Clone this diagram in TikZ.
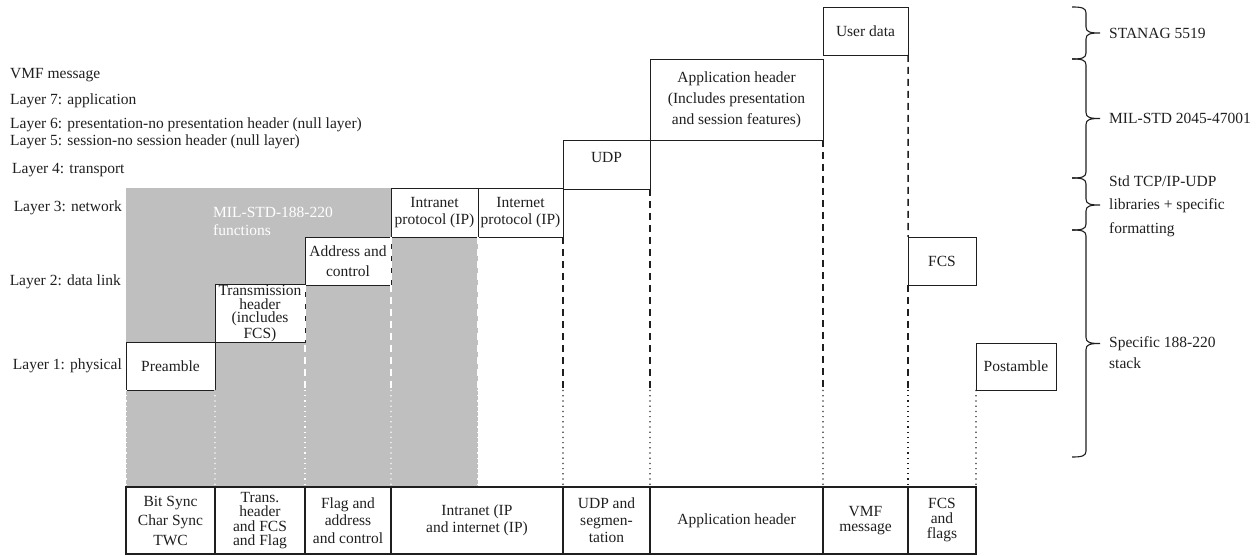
\documentclass[tikz,border=0pt]{standalone}
\usepackage{fontspec}
\setmainfont{Liberation Serif}
\newcommand\fs[2]{\fontsize{#1bp}{#2bp}\selectfont}
\definecolor{grayfill}{gray}{0.75}
\definecolor{ink}{gray}{0.12}
\tikzset{
 box/.style={draw=ink, line width=0.9bp, fill=white, outer sep=0pt, inner sep=1bp, align=center, font=\fs{15.5}{16.5}, text=ink},
 bot/.style={draw=ink, line width=1.4bp, outer sep=0pt, inner sep=0bp, align=center, minimum height=67bp, text=ink},
 dsh/.style={line width=1.5bp, dash pattern=on 7bp off 5bp},
 wdsh/.style={draw=white, line width=1.8bp, dash pattern=on 7bp off 5bp},
 dtt/.style={line width=1.1bp, dash pattern=on 1.2bp off 4bp},
 lab/.style={anchor=west, inner sep=0pt, font=\fs{15.5}{18}, text=ink},
 labr/.style={anchor=east, inner sep=0pt, font=\fs{15.5}{18}, text=ink},
 brc/.style={draw=ink, line width=1.1bp},
}
\newcommand\mybrace[3]{\draw[brc] (1072,#1) .. controls (1082,#1) and (1086,{#1+1}) .. (1086,{#1+6}) -- (1086,{#3-6}) .. controls (1086,{#3-1}) and (1090,#3) .. (1100,#3) .. controls (1090,#3) and (1086,{#3+1}) .. (1086,{#3+6}) -- (1086,{#2-6}) .. controls (1086,{#2-1}) and (1082,#2) .. (1072,#2);}
\begin{document}
\begin{tikzpicture}[x=1bp,y=-1bp]
\useasboundingbox (0,0) rectangle (1258,556);
% gray region
\fill[grayfill] (126,188) rectangle (478,487);
\node[anchor=west, inner sep=0pt, text=white, align=left, font=\fs{15.5}{18}] (g) at (213,221) {MIL-STD-188-220\\functions};
% left labels
\node[lab] (l0) at (10,75) {VMF message};
\node[lab] (l7) at (10,101) {Layer 7: application};
\node[lab] (l6) at (10,125) {Layer 6: presentation-no presentation header (null layer)};
\node[lab] (l5) at (10,142) {Layer 5: session-no session header (null layer)};
\node[lab] (l4) at (12,170) {Layer 4: transport};
\node[labr] (l3) at (122,208) {Layer 3: network};
\node[labr] (l2) at (121,282) {Layer 2: data link};
\node[labr] (l1) at (122,366) {Layer 1: physical};
% stair boxes
\node[box, minimum width=89bp, minimum height=48bp] (pre) at (170.5,366) {Preamble};
\node[box, minimum width=90bp, minimum height=57bp, font=\fs{15.5}{13.5}] (trh) at (260,313.5) {Transmission\\header\\(includes\\FCS)};
\node[box, minimum width=86bp, minimum height=48bp, font=\fs{15.5}{20}] (adc) at (348,261) {Address and\\control};
\node[box, minimum width=87bp, minimum height=49bp] (intra) at (434.5,212.5) {Intranet\\protocol (IP)};
\node[box, minimum width=85bp, minimum height=49bp] (inter) at (520.5,212.5) {Internet\\protocol (IP)};
\node[box, minimum width=87bp, minimum height=49bp] (udp) at (606.5,164.5) {\raisebox{14bp}{UDP}};
\node[box, minimum width=173bp, minimum height=81bp, font=\fs{15.5}{21}] (app) at (736.5,99.5) {Application header\\(Includes presentation\\and session features)};
\node[box, minimum width=85bp, minimum height=48bp] (usr) at (865.5,31) {User data};
\node[box, minimum width=68bp, minimum height=48bp] (fcs) at (942,261) {FCS};
\node[box, minimum width=80bp, minimum height=47bp] (post) at (1016,366.5) {Postamble};
% bottom row
\node[bot, minimum width=89bp, font=\fs{15.5}{19.5}] (b1) at (170.5,520.5) {Bit Sync\\Char Sync\\TWC};
\node[bot, minimum width=90bp, font=\fs{15.5}{14.5}] (b2) at (260,520.5) {Trans.\\header\\and FCS\\and Flag};
\node[bot, minimum width=86bp, font=\fs{15.5}{17.5}] (b3) at (348,520.5) {Flag and\\address\\and control};
\node[bot, minimum width=172bp, font=\fs{15.5}{17}] (b4) at (477,520.5) {Intranet (IP\\and internet (IP)};
\node[bot, minimum width=87bp, font=\fs{15.5}{17}] (b5) at (606.5,520.5) {UDP and\\segmen-\\tation};
\node[bot, minimum width=173bp, font=\fs{15.5}{17}] (b6) at (736.5,520.5) {Application header};
\node[bot, minimum width=85bp, font=\fs{15.5}{14.5}] (b7) at (865.5,520.5) {VMF\\message};
\node[bot, minimum width=68bp, font=\fs{15.5}{15}] (b8) at (942,520.5) {FCS\\and\\flags};
% white dashed / dotted in gray
\draw[wdsh] (adc.south west) -- (adc.south west |- post.south);
\draw[wdsh] (intra.south west) -- (intra.south west |- post.south);
\draw[wdsh] (intra.south east) -- (intra.south east |- post.south);
\draw[dtt, white] (pre.south west) -- (b1.north west);
\draw[dtt, white] (pre.south east) -- (b2.north west);
\draw[dtt, white] (adc.south west |- post.south) -- (b3.north west);
\draw[dtt, white] (intra.south west |- post.south) -- (b4.north west);
\draw[dtt, white] (intra.south east |- post.south) -- (intra.south east |- b4.north);
% black dashed / dotted
\draw[dsh, ink] (inter.south east) -- (inter.south east |- post.south);
\draw[dsh, ink] (udp.south east) -- (udp.south east |- post.south);
\draw[dsh, ink] (app.south east) -- (app.south east |- post.south);
\draw[dsh, ink] (usr.south east) -- (fcs.north west);
\draw[dsh, ink] (fcs.south west) -- (fcs.south west |- post.south);
\draw[dtt, ink] (inter.south east |- post.south) -- (b5.north west);
\draw[dtt, ink] (udp.south east |- post.south) -- (b6.north west);
\draw[dtt, ink] (app.south east |- post.south) -- (b7.north west);
\draw[dtt, ink] (fcs.south west |- post.south) -- (b8.north west);
\draw[dtt, ink] (post.south west) -- (b8.north east);
% braces
\mybrace{7}{59}{33}
\mybrace{59}{178}{118.5}
\mybrace{178}{230}{205}
\mybrace{230}{457}{343.5}
\node[lab] (r1) at (1109,33) {STANAG 5519};
\node[lab] (r2) at (1109,118) {MIL-STD 2045-47001};
\node[lab, align=left, font=\fs{15.5}{23.5}] (r3) at (1109,206) {Std TCP/IP-UDP\\libraries + specific\\formatting};
\node[lab, align=left, font=\fs{15.5}{21}] (r4) at (1109,352.5) {Specific 188-220\\stack};
\end{tikzpicture}
\end{document}
